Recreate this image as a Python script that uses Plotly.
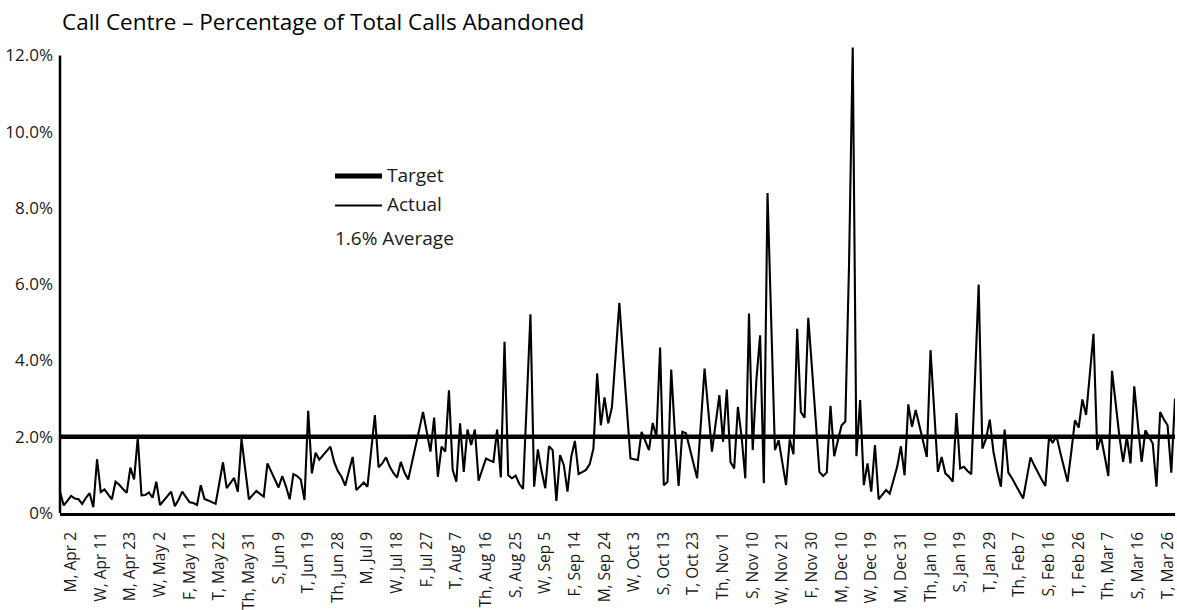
import plotly.graph_objects as go

# ---- data (percent of total calls abandoned, one value per working day) ----
actual_pct = [
    0.56, 0.20, 0.32, 0.45, 0.38, 0.36, 0.24, 0.40, 0.52, 0.15,
    1.41, 0.55, 0.62, 0.48, 0.36, 0.82, 0.74, 0.63, 0.53, 1.19,
    0.88, 1.98, 0.46, 0.47, 0.54, 0.40, 0.82, 0.21, 0.33, 0.45,
    0.56, 0.18, 0.35, 0.56, 0.42, 0.28, 0.26, 0.21, 0.73, 0.37,
    0.33, 0.29, 0.24, 0.78, 1.33, 0.65, 0.78, 0.92, 0.56, 1.94,
    1.15, 0.36, 0.47, 0.58, 0.50, 0.43, 1.30, 1.10, 0.90, 0.67,
    0.97, 0.70, 0.36, 1.02, 0.97, 0.88, 0.34, 2.68, 1.04, 1.58,
    1.40, 1.52, 1.63, 1.74, 1.34, 1.10, 0.95, 0.72, 1.10, 1.47,
    0.60, 0.70, 0.80, 0.69, 1.60, 2.57, 1.20, 1.30, 1.46, 1.22,
    1.05, 0.93, 1.34, 1.06, 0.88, 1.30, 1.75, 2.20, 2.65, 2.10,
    1.61, 2.50, 0.95, 1.74, 1.61, 3.22, 1.13, 0.82, 2.35, 1.08,
    2.19, 1.78, 2.19, 0.85, 1.15, 1.43, 1.38, 1.34, 2.19, 0.93,
    4.49, 0.99, 0.91, 0.98, 0.76, 0.63, 2.90, 5.21, 0.69, 1.67,
    1.10, 0.65, 1.75, 1.65, 0.32, 1.52, 1.26, 0.56, 1.47, 1.89,
    1.02, 1.08, 1.13, 1.28, 1.69, 3.66, 2.30, 3.03, 2.35, 2.78,
    4.15, 5.51, 4.10, 2.70, 1.43, 1.41, 1.39, 2.13, 1.90, 1.65,
    2.36, 2.00, 4.34, 0.73, 0.82, 3.76, 2.09, 0.71, 2.13, 2.09,
    1.70, 1.30, 0.91, 2.35, 3.79, 2.70, 1.61, 2.35, 3.09, 1.87,
    3.24, 1.34, 1.17, 2.78, 2.00, 0.91, 5.23, 1.65, 3.50, 4.66,
    0.78, 8.39, 5.00, 1.65, 1.91, 1.30, 0.73, 1.93, 1.54, 4.83,
    2.65, 2.50, 5.12, 3.80, 2.40, 1.08, 0.97, 1.06, 2.81, 1.49,
    1.90, 2.30, 2.40, 6.50, 12.21, 1.49, 2.96, 0.73, 1.30, 0.56,
    1.78, 0.36, 0.48, 0.60, 0.51, 0.85, 1.21, 1.75, 0.99, 2.85,
    2.26, 2.70, 2.30, 1.87, 1.47, 4.27, 2.70, 1.08, 1.47, 1.04,
    0.95, 0.82, 2.62, 1.17, 1.21, 1.10, 1.02, 3.50, 5.99, 1.69,
    1.95, 2.45, 1.60, 1.10, 0.69, 2.19, 1.06, 0.91, 0.73, 0.55,
    0.38, 0.92, 1.46, 1.25, 1.05, 0.88, 0.71, 2.00, 1.84, 2.02,
    1.60, 1.20, 0.82, 1.60, 2.43, 2.24, 2.98, 2.57, 3.60, 4.70,
    1.65, 2.00, 1.50, 0.97, 3.73, 2.80, 2.00, 1.34, 2.00, 1.30,
    3.32, 2.30, 1.34, 2.17, 2.00, 1.82, 0.69, 2.65, 2.45, 2.30,
    1.06, 3.00,
]
target_pct = 2.0
average_text = "1.6% Average"

tick_labels = [
    "M, Apr 2", "W, Apr 11", "M, Apr 23", "W, May 2", "F, May 11", "T, May 22",
    "Th, May 31", "S, Jun 9", "T, Jun 19", "Th, Jun 28", "M, Jul 9", "W, Jul 18",
    "F, Jul 27", "T, Aug 7", "Th, Aug 16", "S, Aug 25", "W, Sep 5", "F, Sep 14",
    "M, Sep 24", "W, Oct 3", "S, Oct 13", "T, Oct 23", "Th, Nov 1", "S, Nov 10",
    "W, Nov 21", "F, Nov 30", "M, Dec 10", "W, Dec 19", "M, Dec 31", "Th, Jan 10",
    "S, Jan 19", "T, Jan 29", "Th, Feb 7", "S, Feb 16", "T, Feb 26", "Th, Mar 7",
    "S, Mar 16", "T, Mar 26",
]
first_tick_index = 3
tick_every = 8

y_tick_values = [0, 2, 4, 6, 8, 10, 12]
y_tick_text = ["0%", "2.0%", "4.0%", "6.0%", "8.0%", "10.0%", "12.0%"]

title_text = "Call Centre \u2013 Percentage of Total Calls Abandoned"

# ---- figure ----
FONT = "Open Sans, Noto Sans, DejaVu Sans, sans-serif"
TXT = "#1a1a1a"
n = len(actual_pct)
xs = list(range(n))

fig = go.Figure()
fig.add_trace(go.Scatter(
    x=xs, y=[target_pct] * n, mode="lines", name="Target",
    line=dict(color="black", width=4.5), showlegend=False, hoverinfo="skip",
))
fig.add_trace(go.Scatter(
    x=xs, y=actual_pct, mode="lines", name="Actual",
    line=dict(color="black", width=2.1), showlegend=False,
))

W, H = 1177, 610
ml, mr, mt, mb = 60, 2, 44, 97
pw, ph = W - ml - mr, H - mt - mb


def px(xp):
    return (xp - ml) / pw


def py(yp):
    return (H - mb - yp) / ph


shapes = [
    # left axis line (stops at 12%)
    dict(type="line", xref="paper", yref="y", x0=0, x1=0, y0=0, y1=12,
         line=dict(color="black", width=2.5)),
    # legend lines
    dict(type="line", xref="paper", yref="paper", x0=px(335), x1=px(382),
         y0=py(176), y1=py(176), line=dict(color="black", width=5)),
    dict(type="line", xref="paper", yref="paper", x0=px(335), x1=px(382),
         y0=py(205.5), y1=py(205.5), line=dict(color="black", width=2.2)),
]

annotations = [
    dict(text="Target", xref="paper", yref="paper", x=px(385), y=py(175),
         xanchor="left", yanchor="middle", showarrow=False,
         font=dict(family=FONT, size=19, color=TXT)),
    dict(text="Actual", xref="paper", yref="paper", x=px(385), y=py(204),
         xanchor="left", yanchor="middle", showarrow=False,
         font=dict(family=FONT, size=19, color=TXT)),
    dict(text=average_text, xref="paper", yref="paper", x=px(333), y=py(238),
         xanchor="left", yanchor="middle", showarrow=False,
         font=dict(family=FONT, size=19, color=TXT)),
]

fig.update_layout(
    width=W, height=H,
    margin=dict(l=ml, r=mr, t=mt, b=mb, pad=0, autoexpand=False),
    paper_bgcolor="white", plot_bgcolor="white",
    title=dict(text=title_text, xref="container", yref="container",
               x=62 / W, xanchor="left", y=1 - 22 / H, yanchor="middle",
               font=dict(family=FONT, size=22.5, color="black")),
    shapes=shapes, annotations=annotations,
    showlegend=False,
    font=dict(family=FONT, color=TXT),
)
fig.update_xaxes(
    range=[0, n - 1],
    tickmode="array",
    tickvals=[first_tick_index + tick_every * k for k in range(len(tick_labels))],
    ticktext=tick_labels,
    tickangle=-90,
    tickfont=dict(family=FONT, size=15.5, color=TXT),
    ticks="", ticklabelstandoff=10,
    ticklabeloverflow="allow",
    showgrid=False, zeroline=False,
    showline=True, linecolor="black", linewidth=2.5,
    automargin=False,
)
fig.update_yaxes(
    range=[0, 12.3],
    tickmode="array", tickvals=y_tick_values, ticktext=y_tick_text,
    tickfont=dict(family=FONT, size=17, color=TXT),
    ticks="", ticklabelstandoff=6,
    showgrid=False, zeroline=False, showline=False,
    automargin=False,
)

fig.write_html(
    "out.html",
    config={"displayModeBar": False},
    post_script="document.body.style.margin='0px';document.body.style.padding='0px';",
)
